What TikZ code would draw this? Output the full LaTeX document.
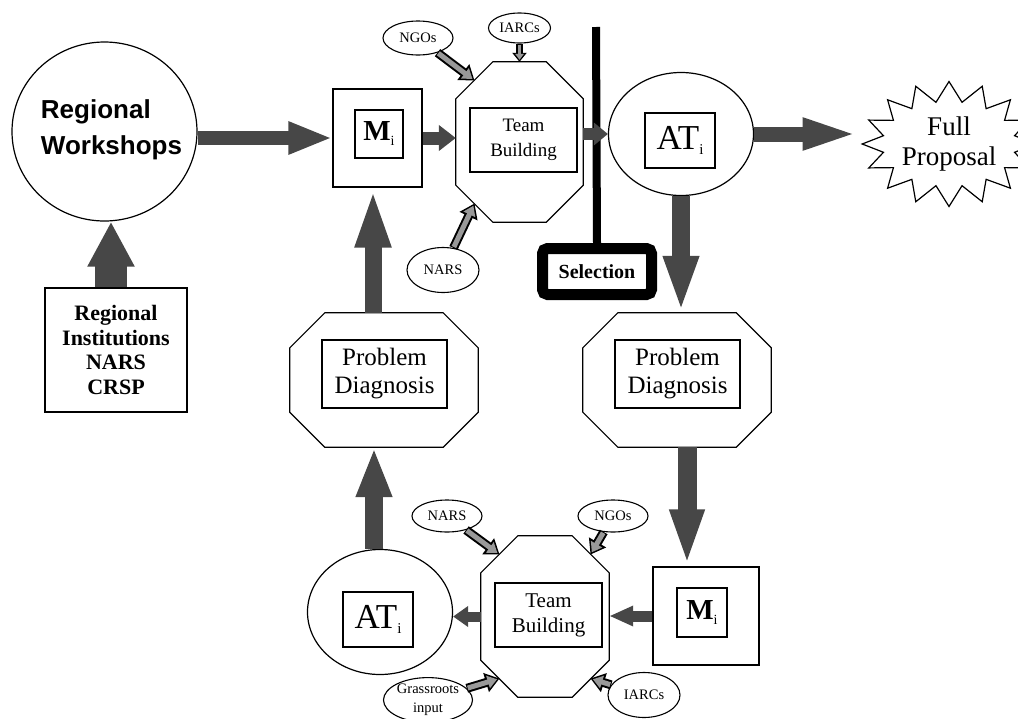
\documentclass[tikz,border=0pt]{standalone}
\usepackage{fontspec}
\setmainfont{Liberation Serif}
\newfontfamily\headsans{Liberation Sans}
\usetikzlibrary{arrows.meta,shapes.geometric,shapes.symbols}

% octagon outline drawn on the border of a named rectangle node
\newcommand\octpath[2]{\draw[line width=1.2pt] ([xshift=#2]#1.north west) -- ([xshift=-#2]#1.north east) -- ([yshift=-#2]#1.north east) -- ([yshift=#2]#1.south east) -- ([xshift=-#2]#1.south east) -- ([xshift=#2]#1.south west) -- ([yshift=#2]#1.south west) -- ([yshift=-#2]#1.north west) -- cycle;}
\newcommand\subi[2]{{\fontsize{#1}{#1}\selectfont\raisebox{#2}{i}}}

\tikzset{
  fat/.style n args={3}{draw=black!72, line width=#1, -{Triangle[length=#2,width=#3]}},
  sat/.style={draw=black, line width=9pt, -{Triangle[length=14pt,width=19pt]},
    postaction={draw=black!40, line width=5pt, shorten >=2.5pt, shorten <=1pt, -{Triangle[length=9.5pt,width=12.5pt]}}},
  satsmall/.style={draw=black, line width=7pt, -{Triangle[length=9pt,width=14pt]},
    postaction={draw=black!40, line width=3.5pt, shorten >=2pt, shorten <=1pt, -{Triangle[length=6pt,width=8.5pt]}}},
  outline/.style={draw, line width=1.2pt},
  inbox/.style={draw, line width=1.4pt, inner sep=0pt, align=center},
  satell/.style={ellipse, draw, line width=1.1pt, inner sep=0pt, align=center, font={\fontsize{14.5}{17}\selectfont}},
}

\begin{document}
\begin{tikzpicture}[x=1pt,y=-1pt]
\useasboundingbox (0,0) rectangle (1018,718);

% ---- top row -------------------------------------------------------
\node[ellipse, outline, minimum width=185pt, minimum height=179pt, inner sep=0pt] (rw) at (104.5,131.5) {};
\node[align=left, inner sep=0pt, font={\headsans\bfseries\fontsize{26}{36}\selectfont}] (rwtxt) at (111.5,130) {Regional\\Workshops};

\node[outline, minimum width=142pt, minimum height=124pt, align=center,
      font={\bfseries\fontsize{22}{24.5}\selectfont}] (inst) at (116,350) {Regional\\Institutions\\NARS\\CRSP};

\node[outline, minimum width=89pt, minimum height=98pt] (mi1) at (377.5,138) {};
\node[inbox, line width=1.8pt, minimum width=48pt, minimum height=48pt,
      font={\fontsize{29}{29}\selectfont}] (mi1in) at (379,134) {\textbf{M}\subi{14}{-5pt}};

\node[minimum width=127pt, minimum height=160pt, inner sep=0pt] (tb1) at (519.5,142) {};
\octpath{tb1}{37pt}
\node[inbox, minimum width=107pt, minimum height=64pt,
      font={\fontsize{19}{25}\selectfont}] (tb1in) at (523.5,140) {Team\\Building};

\node[satell, minimum width=70pt, minimum height=34pt] (ngo1) at (418,38) {NGOs};
\node[satell, minimum width=62pt, minimum height=30pt] (iarc1) at (519.5,28) {IARCs};
\node[satell, minimum width=72pt, minimum height=45pt] (nars1) at (443,270) {NARS};

\coordinate (tb1nw) at (474.5,80.5);
\coordinate (tb1sw) at (474.5,203.5);

\node[ellipse, outline, minimum width=145pt, minimum height=123pt] (at1) at (681,134) {};
\node[inbox, minimum width=70pt, minimum height=55pt,
      font={\fontsize{35}{35}\selectfont}] (at1in) at (680,140.5) {AT\subi{15}{-5pt}};

\node[starburst, outline, starburst points=16, starburst point height=20pt, random starburst=0,
      minimum width=164pt, minimum height=125pt, inner sep=0pt, align=center,
      font={\fontsize{27}{30}\selectfont}] (full) at (949,144) {Full\\Proposal};

% selection barrier
\node[draw, line width=11pt, rounded corners=5pt, fill=white, minimum width=109pt, minimum height=46pt,
      font={\bfseries\fontsize{20}{20}\selectfont}] (sel) at (597,271.5) {Selection};
\coordinate (bartop) at (596,27);
\draw[line width=8pt] (bartop) -- (sel.north);

% ---- middle row ----------------------------------------------------
\node[minimum width=188pt, minimum height=134pt, inner sep=0pt] (pd1) at (384,380) {};
\octpath{pd1}{35pt}
\node[inbox, minimum width=125pt, minimum height=68pt,
      font={\fontsize{25}{28}\selectfont}] (pd1in) at (384.5,374) {Problem\\Diagnosis};

\node[minimum width=188pt, minimum height=134pt, inner sep=0pt] (pd2) at (677,380) {};
\octpath{pd2}{35pt}
\node[inbox, minimum width=125pt, minimum height=68pt,
      font={\fontsize{25}{28}\selectfont}] (pd2in) at (677.5,374) {Problem\\Diagnosis};

% ---- bottom row ----------------------------------------------------
\node[ellipse, outline, minimum width=145pt, minimum height=125pt] (at2) at (380,612) {};
\node[inbox, minimum width=70pt, minimum height=55pt,
      font={\fontsize{35}{35}\selectfont}] (at2in) at (378,619.5) {AT\subi{15}{-5pt}};

\node[minimum width=128pt, minimum height=161pt, inner sep=0pt] (tb2) at (545,616.5) {};
\octpath{tb2}{37pt}
\node[inbox, minimum width=107pt, minimum height=64pt,
      font={\fontsize{21}{25}\selectfont}] (tb2in) at (548.5,615) {Team\\Building};

\node[outline, minimum width=106pt, minimum height=98pt] (mi2) at (706,616) {};
\node[inbox, line width=1.8pt, minimum width=50pt, minimum height=49pt,
      font={\fontsize{29}{29}\selectfont}] (mi2in) at (702,612.5) {\textbf{M}\subi{14}{-5pt}};

\node[satell, minimum width=70pt, minimum height=32pt] (nars2) at (447,516) {NARS};
\node[satell, minimum width=70pt, minimum height=32pt] (ngo2) at (613,516) {NGOs};
\node[satell, minimum width=89pt, minimum height=42pt, font={\fontsize{14.5}{19}\selectfont}] (grass) at (428,700) {Grassroots\\input};
\node[satell, minimum width=72pt, minimum height=45pt] (iarc2) at (644,695) {IARCs};

\coordinate (tb2nw) at (499.5,554.5);
\coordinate (tb2ne) at (590.5,554.5);
\coordinate (tb2sw) at (499.5,678.5);
\coordinate (tb2se) at (590.5,678.5);

% ---- connectors ----------------------------------------------------
\draw[fat={14pt}{44pt}{30pt}] (rw.east |- mi1.west) -- (mi1.west);
\draw[fat={32pt}{45pt}{44pt}] ([xshift=-5pt]inst.north) -- ([xshift=-5pt]inst.north |- rw.south);
\draw[fat={13pt}{17pt}{25pt}] (mi1.east) -- (mi1.east -| tb1.west);
\draw[fat={12pt}{14pt}{22pt}] (tb1.east |- at1.west) -- (at1.west);
\draw[fat={15pt}{58pt}{28pt}] (at1.east) -- (at1.east -| full.west);
\draw[fat={18pt}{57pt}{32pt}] (at1.south) -- (at1.south |- pd2.north);
\draw[fat={19pt}{57pt}{31pt}] ([xshift=10pt]pd2.south) -- ([xshift=10pt]pd2.south |- mi2.north);
\draw[fat={11pt}{24pt}{19pt}] (mi2.west) -- (mi2.west -| tb2.east);
\draw[fat={10pt}{15pt}{20pt}] (tb2.west) -- (tb2.west -| at2.east);
\draw[fat={18pt}{50pt}{33pt}] ([xshift=-6pt]at2.north) -- ([xshift=-6pt]at2.north |- pd1.south);
\draw[fat={17pt}{60pt}{32pt}] ([xshift=-11pt]pd1.north) -- ([xshift=-11pt]pd1.north |- mi1.south);

\draw[sat] (ngo1) -- (tb1nw);
\draw[sat] (nars1) -- (tb1sw);
\draw[satsmall] (iarc1) -- (tb1.north);
\draw[sat] (nars2) -- (tb2nw);
\draw[sat] (ngo2) -- (tb2ne);
\draw[sat] (grass) -- (tb2sw);
\draw[sat] (iarc2) -- (tb2se);
\end{tikzpicture}
\end{document}
